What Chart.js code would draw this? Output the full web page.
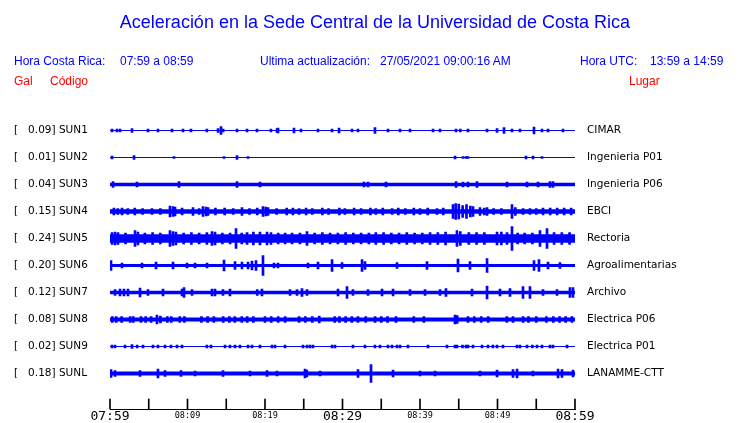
<!DOCTYPE html>
<html>
<head>
<meta charset="utf-8">
<script src="https://cdn.jsdelivr.net/npm/chart.js@4"></script>
<style>
  body { margin: 0; background: #fff; }
  #wrap { position: relative; width: 740px; height: 423px; }
  #wrap canvas { position: absolute; left: 0; top: 0; }
  .t { position: absolute; font-family: 'Liberation Sans', Arial, sans-serif; white-space: pre; line-height: 1; }
  .blue { color: #0000ff; }
  .red { color: #ff0000; }
</style>
</head>
<body>
<div id="wrap">
  <canvas id="sismo" width="740" height="423"></canvas>
  <div class="t blue" style="left:0;width:750px;text-align:center;top:13px;font-size:18px;">Aceleración en la Sede Central de la Universidad de Costa Rica</div>
  <div class="t blue" style="left:14px;top:55px;font-size:12px;">Hora Costa Rica:</div>
  <div class="t blue" style="left:120px;top:55px;font-size:12px;">07:59 a 08:59</div>
  <div class="t blue" style="left:260px;top:55px;font-size:12px;">Ultima actualización:</div>
  <div class="t blue" style="left:380px;top:55px;font-size:12px;">27/05/2021 09:00:16 AM</div>
  <div class="t blue" style="left:580px;top:55px;font-size:12px;">Hora UTC:</div>
  <div class="t blue" style="left:650px;top:55px;font-size:12px;">13:59 a 14:59</div>
  <div class="t red" style="left:14px;top:75px;font-size:12px;">Gal</div>
  <div class="t red" style="left:50px;top:75px;font-size:12px;">Código</div>
  <div class="t red" style="left:629px;top:75px;font-size:12px;">Lugar</div>
</div>
<script>
// ==================== Data ====================
const stations = ['SUN1', 'SUN2', 'SUN3', 'SUN4', 'SUN5', 'SUN6', 'SUN7', 'SUN8', 'SUN9', 'SUNL'];
const peakGal = [0.09, 0.01, 0.04, 0.15, 0.24, 0.20, 0.12, 0.08, 0.02, 0.18];
const places = ['CIMAR', 'Ingenieria P01', 'Ingenieria P06', 'EBCI', 'Rectoria',
                'Agroalimentarias', 'Archivo', 'Electrica P06', 'Electrica P01', 'LANAMME-CTT'];

// time axis, minutes after 07:59
const timeMinutes = [0, 10, 20, 30, 40, 50, 60];
const timeLabels = ['07:59', '08:09', '08:19', '08:29', '08:39', '08:49', '08:59'];
const tickMinutes = [0, 5, 10, 15, 20, 25, 30, 35, 40, 45, 50, 55, 60];

// background noise level of each trace (trace spacing = 27)
const baseAmp = [0.6, 0.5, 1.7, 2.3, 4.2, 1.5, 1.7, 1.9, 0.5, 2.0];

// bursts: [minute, half amplitude]
const spikesSUN1 = [[0.26,1.5],[0.9,1.5],[1.3,1.5],[2.84,2],[4.9,1.5],[6.19,1.5],[8.0,1.5],[9.42,1.5],[10.45,1.5],
  [12.5,1.5],[13.94,2],[14.32,4],[14.6,1.5],[16.39,1.5],[17.68,1.5],[18.97,1.5],[20.77,1.5],[21.55,2],[21.68,2.5],
  [23.74,2.5],[24.65,1.5],[26.84,1.5],[28.65,1.5],[29.55,2.5],[31.23,1.5],[32.0,1.5],[34.19,3],[35.87,1.5],
  [37.42,1.5],[38.71,1.5],[41.68,1.5],[42.58,1.5],[44.65,1.5],[45.2,1.5],[46.19,1.5],[48.65,1.5],[49.94,2],
  [50.84,3],[51.87,1.5],[52.9,1.5],[54.71,3.5],[55.74,1.5],[56.52,1.5],[58.45,1.5]];
const spikesSUN2 = [[0.26,1.5],[3.1,2],[8.26,1],[14.71,1],[16.39,2],[17.81,1],[44.52,1.5],[45.55,1],[45.94,1],
  [46.19,1],[53.68,1.5],[54.58,1.5],[55.74,1]];
const spikesSUN3 = [[0.39,3],[3.48,2.5],[8.9,3],[16.39,3],[19.35,2.5],[32.77,2.5],[33.29,2.5],[35.61,2.5],[44.65,3],
  [45.55,2.5],[46.19,2.5],[47.35,3],[51.23,2.5],[53.81,2.5],[55.23,2.5],[56.77,3],[57.16,3]];
const spikesSUN4 = [[0.5,3.5],[1.0,3],[1.55,3.5],[2.3,3],[3.2,3.5],[4.2,3],[5.42,3],[6.5,3],[7.74,5.5],[8.13,5],
  [8.39,4.5],[9.3,3.5],[10.71,4],[11.5,3],[12.0,5],[12.4,4.5],[12.65,4],[13.6,3.5],[14.8,3.5],[15.9,3],[17.03,4],
  [18.0,3],[19.0,3.5],[19.74,5],[20.1,4.5],[20.39,4],[21.5,3],[22.8,3.5],[23.6,3.5],[24.4,3],[25.3,3.5],[26.1,3],
  [27.4,3.5],[28.2,3],[29.6,3.5],[30.3,3],[31.5,3.5],[32.4,3],[33.6,3.5],[34.3,3],[35.2,3.5],[36.4,3],[37.2,3.5],
  [38.1,3],[39.2,3.5],[40.0,3],[41.0,3.5],[42.2,3],[43.0,3.5],[44.26,7],[44.6,8],[45.0,7.5],[45.5,6],[46.0,7],
  [46.5,5.5],[46.84,5],[47.74,4],[48.3,3.5],[48.65,4],[49.5,3],[50.5,3],[51.87,7],[52.3,4],[53.3,3],[54.19,3],
  [55.0,3],[55.87,3.5],[56.8,3.5],[57.7,3.5],[58.6,3.5],[59.5,3.5]];
const spikesSUN5 = [[0.26,6],[0.65,6.5],[1.03,6],[2.0,5.5],[3.23,8],[3.6,6.5],[4.5,5.5],[5.5,6],[6.5,5.5],[7.74,8],
  [8.13,7],[8.5,6.5],[9.5,5.5],[10.5,6],[11.5,5.5],[12.5,6],[13.16,7],[13.55,6.5],[14.5,5.5],[15.5,5.5],[16.26,10],
  [17.0,5.5],[17.68,6],[18.5,6.5],[19.35,6.5],[20.26,6.5],[20.77,6],[21.7,5.5],[22.6,5.5],[23.5,5.5],[24.5,5.5],
  [25.42,7],[26.4,5.5],[27.4,6],[28.4,5.5],[29.4,5.5],[30.4,6],[31.4,5.5],[32.4,5.5],[33.4,5.5],[34.3,6],[35.3,6],
  [36.3,5.5],[37.3,5.5],[38.3,6],[39.3,5.5],[40.3,5.5],[41.3,6],[42.3,6],[43.3,6.5],[44.77,8],[45.2,7],[46.3,6],
  [47.3,6],[48.3,6],[49.94,6.5],[50.5,6.5],[51.23,6],[51.87,12],[52.6,5.5],[53.5,5.5],[54.5,5.5],[55.48,8],
  [56.39,10],[57.3,6],[58.3,6],[59.3,6]];
const spikesSUN6 = [[0.13,5],[1.55,2.5],[4.13,2.5],[5.94,3.5],[8.13,3.5],[9.94,2.5],[10.97,2.5],[12.52,2.5],[14.71,5.5],
  [16.13,4],[17.03,3.5],[17.81,3.5],[18.32,4.5],[18.84,5],[19.74,10],[21.16,2.5],[21.68,2.5],[25.55,2.5],[26.84,3.5],
  [28.65,6],[29.94,3],[32.52,6],[32.9,4],[37.03,3],[40.9,4],[44.9,6.5],[46.45,4],[48.65,7],[54.71,5],[55.35,6],
  [56.52,3.5],[58.06,3]];
const spikesSUN7 = [[0.65,3],[1.29,3.5],[1.8,3.5],[2.32,3.5],[3.87,4.5],[4.9,3],[6.84,3.5],[9.29,3.5],[9.55,5],
  [10.58,3],[13.16,3.5],[13.55,3.5],[14.58,3],[15.48,3.5],[19.0,3],[19.61,3.5],[23.23,3],[24.13,3],[24.77,4],
  [25.42,3],[29.42,3.5],[30.58,6],[31.35,3],[33.29,3],[35.1,3.5],[36.52,3.5],[38.71,3],[40.65,3],[42.58,3],
  [43.35,4],[46.71,3.5],[48.65,6.5],[50.32,3.5],[51.61,4],[53.29,6],[54.19,6],[55.87,3],[57.68,3],[59.35,5],[59.74,5]];
const spikesSUN8 = [[0.3,3],[0.8,3],[1.5,3],[2.6,3],[3.0,3],[4.0,3],[4.6,3],[5.3,3],[6.06,4.5],[6.5,3.5],[7.4,3],
  [7.9,3],[9.0,3],[9.6,3],[11.8,3],[12.6,3],[13.4,3],[14.6,3],[15.4,3],[16.1,3],[17.0,3],[17.7,3],[18.5,3],
  [20.0,3],[20.8,3],[21.7,3],[22.6,3],[24.4,3],[25.2,3],[26.1,3],[27.0,3.5],[29.0,3],[29.6,3],[30.4,3],[31.2,3],
  [32.0,3],[33.0,3],[34.2,3],[35.0,3],[35.8,3],[36.9,3],[39.2,3],[40.5,3],[44.52,4.5],[44.8,4],[46.2,3],[47.0,3],
  [47.9,3],[48.8,3],[51.2,3],[52.0,3],[53.3,3],[54.0,3],[55.0,3],[56.3,3],[57.2,3],[58.0,3],[58.8,3],[59.6,3]];
const spikesSUN9 = [[0.26,1.5],[0.65,1.5],[1.94,1.5],[2.84,2],[3.5,1.5],[4.26,1.5],[5.55,1.5],[6.19,1.5],[7.1,1.5],
  [7.87,1.5],[8.65,1.5],[9.29,1.5],[12.5,1.5],[13.03,1.5],[14.84,1.5],[15.48,1.5],[16.13,1.5],[16.77,1.5],
  [17.81,1.5],[18.32,1.5],[19.35,1.5],[20.9,1.5],[21.29,1.5],[22.58,1.5],[24.9,1.5],[25.42,1.5],[25.81,1.5],
  [26.19,1.5],[28.65,1.5],[29.03,1.5],[31.35,1.5],[32.9,1.5],[34.19,1.5],[34.84,1.5],[35.87,1.5],[36.39,1.5],
  [37.03,1.5],[37.42,1.5],[38.45,1.5],[41.03,1.5],[43.48,1.5],[44.52,1.5],[44.77,1.5],[45.48,1.5],[45.94,1.5],
  [46.19,1.5],[46.84,1.5],[48.0,1.5],[48.77,1.5],[49.4,1.5],[49.94,1.5],[50.71,1.5],[52.52,1.5],[52.9,1.5],
  [53.81,1.5],[54.5,1.5],[55.1,1.5],[55.74,1.5],[56.77,1.5],[57.16,1.5],[58.97,1.5]];
const spikesSUNL = [[0.13,4],[0.65,3],[3.87,3],[6.19,4.5],[7.1,3],[9.16,3],[10.97,2.5],[14.58,3],[18.06,2.5],[20.26,3],
  [21.55,2.5],[25.16,4.5],[25.4,3.5],[27.1,2.5],[32.0,4],[33.68,9],[36.52,3.5],[40.0,2.5],[41.94,2.5],[47.74,2.5],
  [49.94,3.5],[52.0,4],[52.52,4.5],[54.58,2.5],[57.81,4.5],[58.32,4],[59.74,3.5]];

const spikes = [spikesSUN1, spikesSUN2, spikesSUN3, spikesSUN4, spikesSUN5,
                spikesSUN6, spikesSUN7, spikesSUN8, spikesSUN9, spikesSUNL];

// ==================== Layout of the traces ====================
const BLUE = '#0000ff';
const SPACING = 27;
const Y_MAX = 17;
const Y_MIN = -278.5;
const centre = i => -SPACING * i;

const datasets = [];
stations.forEach((name, i) => {
    const c = centre(i);
    datasets.push({
        type: 'line',
        data: [{ x: 0, y: c + baseAmp[i] }, { x: 60, y: c + baseAmp[i] }],
        borderColor: 'rgba(0,0,0,0)', borderWidth: 0, pointRadius: 0, fill: false
    });
    datasets.push({
        type: 'line',
        data: [{ x: 0, y: c - baseAmp[i] }, { x: 60, y: c - baseAmp[i] }],
        borderColor: 'rgba(0,0,0,0)', borderWidth: 0, pointRadius: 0,
        fill: '-1', backgroundColor: BLUE
    });
    datasets.push({
        type: 'bar',
        data: spikes[i].map(([m, a]) => ({ x: m, y: [c - a, c + a] })),
        backgroundColor: BLUE, barThickness: 2, grouped: false
    });
});

// time ticks standing on the axis
datasets.push({
    type: 'bar',
    data: tickMinutes.map(m => ({ x: m, y: [Y_MIN, Y_MIN + 10] })),
    backgroundColor: '#000', barThickness: 1, grouped: false, clip: false
});

new Chart(document.getElementById('sismo').getContext('2d'), {
    type: 'bar',
    data: { datasets: datasets },
    options: {
        responsive: false,
        animation: false,
        events: [],
        layout: { padding: { top: 113.5, left: 14, right: 0, bottom: 0 } },
        plugins: { legend: { display: false }, tooltip: { enabled: false } },
        scales: {
            x: {
                type: 'linear', min: 0, max: 60, offset: false,
                grid: { display: false, drawTicks: false },
                border: { display: true, color: '#000', width: 1 },
                afterBuildTicks: s => { s.ticks = timeMinutes.map(v => ({ value: v })); },
                afterFit: s => { s.height = 14; },
                ticks: {
                    autoSkip: false, maxRotation: 0, padding: 0, color: '#000',
                    callback: (v, idx) => timeLabels[idx],
                    font: ctx => (ctx.tick && ctx.tick.value % 30 === 0)
                        ? { family: 'DejaVu Sans Mono', size: 13, lineHeight: 1.15 }
                        : { family: 'DejaVu Sans Mono', size: 8.5, lineHeight: 1.5 }
                }
            },
            y: {
                type: 'linear', position: 'left', min: Y_MIN, max: Y_MAX,
                grid: { display: false, drawTicks: false }, border: { display: false },
                afterBuildTicks: s => { s.ticks = stations.map((_, i) => ({ value: centre(i) })); },
                afterFit: s => { s.width = 96; },
                ticks: {
                    autoSkip: false, crossAlign: 'far', padding: 0, color: '#000',
                    font: { family: 'DejaVu Sans', size: 10.5 },
                    callback: (v, idx) => `[   ${peakGal[idx].toFixed(2)}] ${stations[idx]}`
                }
            },
            y2: {
                type: 'linear', position: 'right', min: Y_MIN, max: Y_MAX,
                // gap between the traces and the place names comes from the (hidden) tick length
                grid: { display: false, drawTicks: true, tickLength: 12 }, border: { display: false },
                afterBuildTicks: s => { s.ticks = places.map((_, i) => ({ value: centre(i) })); },
                afterFit: s => { s.width = 165; },
                ticks: {
                    autoSkip: false, padding: 0, color: '#000',
                    font: { family: 'DejaVu Sans', size: 10.5 },
                    callback: (v, idx) => places[idx]
                }
            }
        }
    }
});
</script>
</body>
</html>
